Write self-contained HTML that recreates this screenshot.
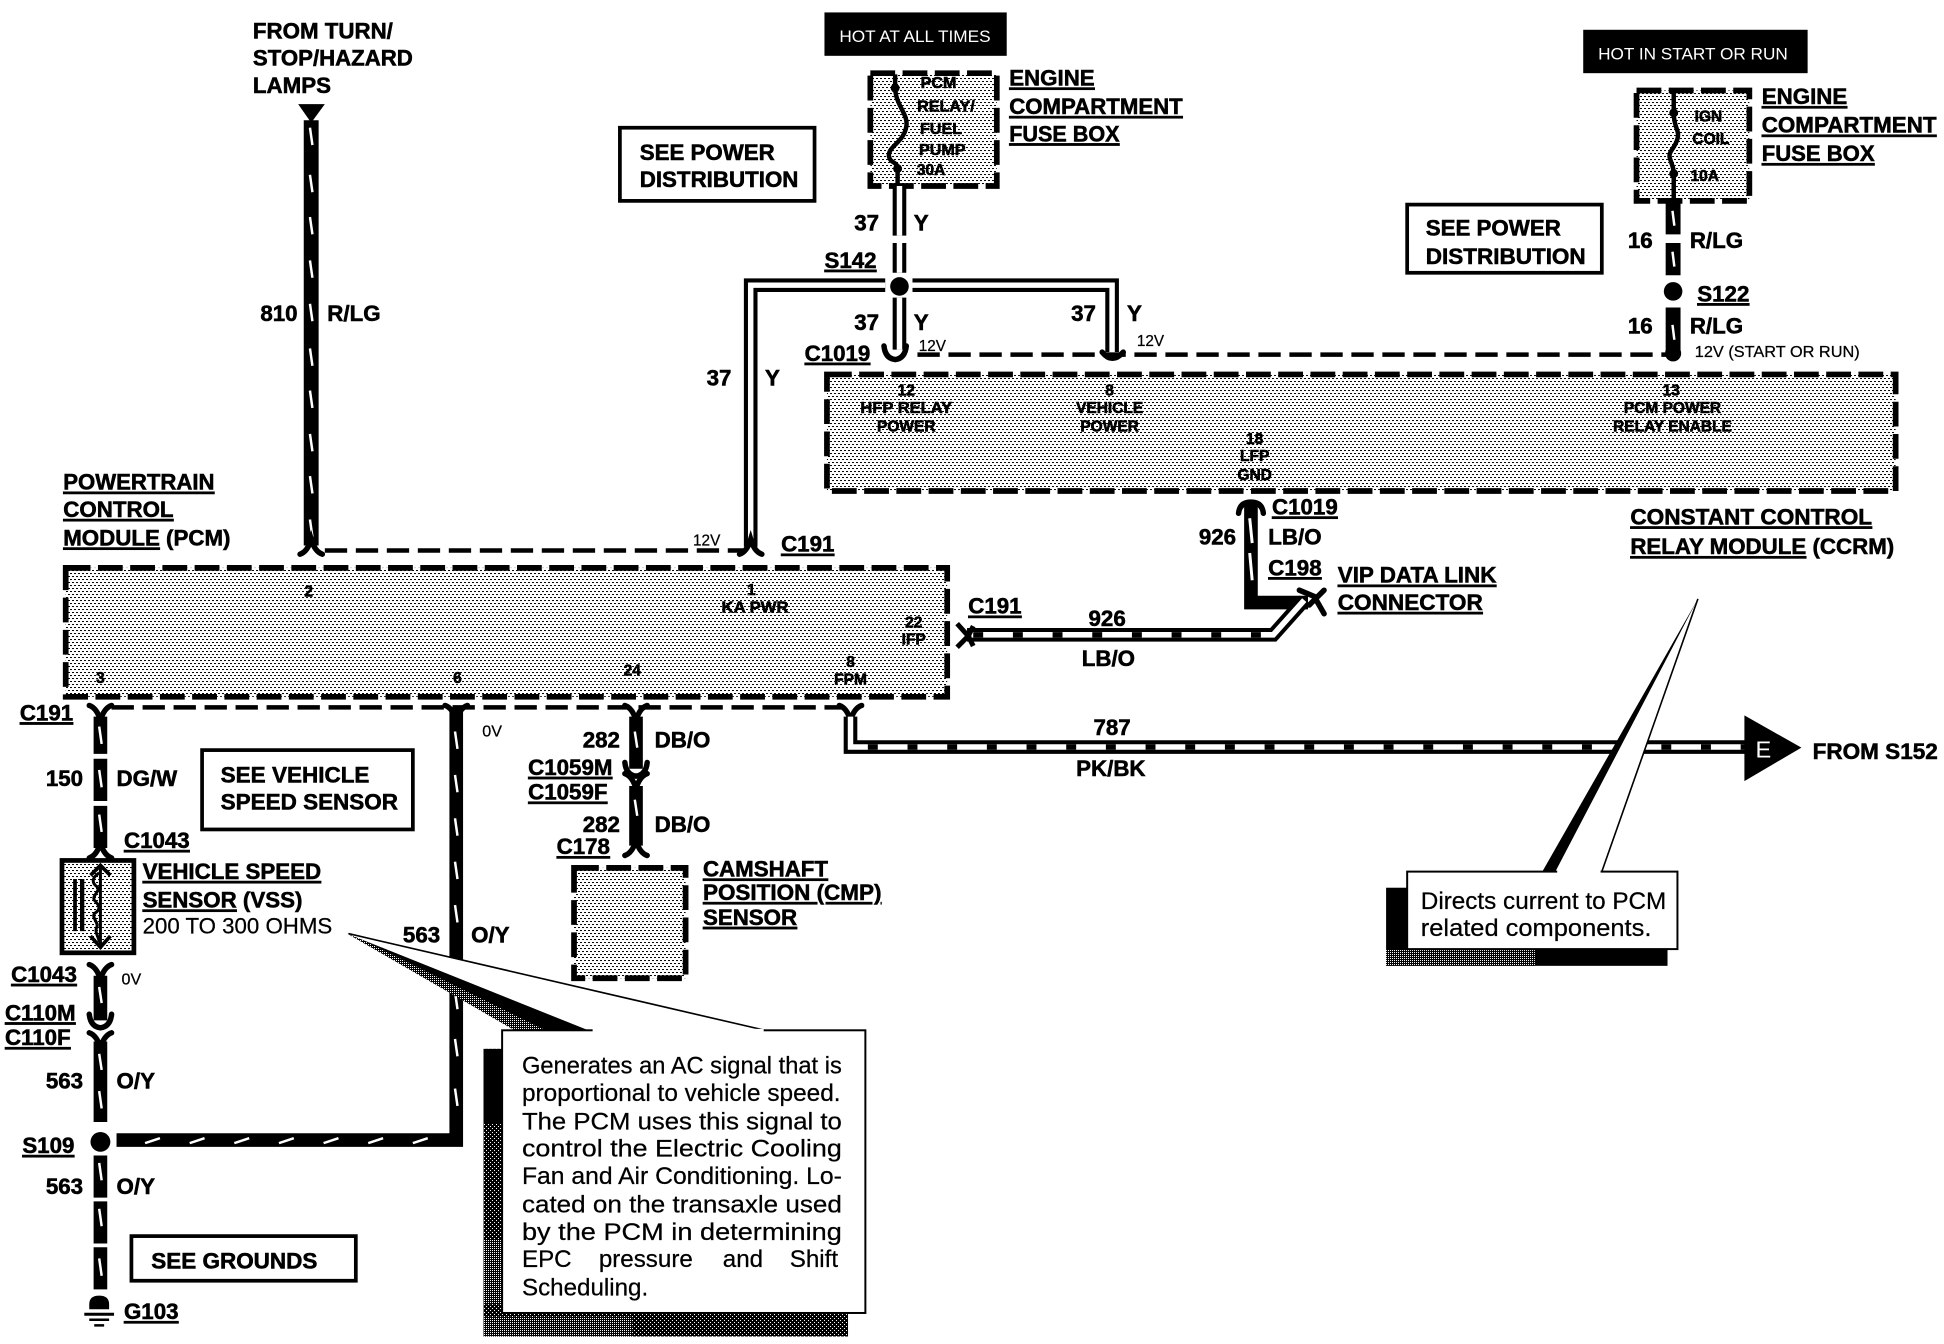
<!DOCTYPE html>
<html><head><meta charset="utf-8"><style>
html,body{margin:0;padding:0;background:#fff}
svg{display:block}
text{font-family:"Liberation Sans",sans-serif;fill:#000}
.b{font-weight:bold;font-size:18px;stroke:#000;stroke-width:.45px}
.u{text-decoration:underline}
.s{font-weight:bold;font-size:12.5px;stroke:#000;stroke-width:.5px;text-anchor:middle}
.v{font-size:13px;stroke:#000;stroke-width:.2px}
.e{text-anchor:end}
.m{text-anchor:middle}
.n{font-size:18px;stroke:#000;stroke-width:.2px}
.c{font-size:19.5px}
.w{fill:#fff;font-size:13.5px}
.box{fill:#fff;stroke:#000;stroke-width:3}
.d{fill:none;stroke:#000;stroke-width:3.6;stroke-dasharray:18 7}
.mod{fill:url(#dith);stroke:#000;stroke-width:4.6;stroke-dasharray:20 6}
.wire{fill:none;stroke:#000;stroke-width:12}
.tk{fill:none;stroke:#fff;stroke-width:2}
.o{fill:none;stroke:#000;stroke-width:11;stroke-linejoin:miter}
.i{fill:none;stroke:#fff;stroke-width:4.4;stroke-linejoin:miter}
.st{fill:none;stroke:#000;stroke-width:4.4;stroke-dasharray:8 24}
.f{fill:none;stroke:#000;stroke-width:4.4;stroke-linecap:round}
</style></head><body>
<svg width="1944" height="1344" viewBox="0 0 1568 1084" xmlns="http://www.w3.org/2000/svg">
<defs>
<pattern id="dith" width="4" height="6" patternUnits="userSpaceOnUse" patternTransform="scale(.80658)">
<rect width="4" height="6" fill="#fff"/><rect x="0" y="0" width="2" height="1" fill="#000"/><rect x="2" y="3" width="2" height="1" fill="#000"/>
</pattern>
<pattern id="dark" width="2" height="2" patternUnits="userSpaceOnUse" patternTransform="scale(.80658)">
<rect width="2" height="2" fill="#000"/><rect x="0" y="0" width="1" height="1" fill="#fff"/>
</pattern>
<pattern id="dark2" width="4" height="4" patternUnits="userSpaceOnUse" patternTransform="scale(.80658)">
<rect width="4" height="4" fill="#000"/><rect x="0" y="0" width="1" height="1" fill="#fff"/><rect x="2" y="2" width="1" height="1" fill="#fff"/>
</pattern>
<path id="fd" class="f" d="M-9 6Q-3 4 0 -6Q3 4 9 6"/>
<path id="fu" class="f" d="M-9 -6Q-3 -4 0 6Q3 -4 9 -6"/>
<path id="cup" class="f" d="M-9 -5Q-8 5 0 6Q8 5 9 -5"/>
</defs>
<rect width="1568" height="1084" fill="#fff"/>

<!-- black banners -->
<rect x="665" y="10" width="147" height="35" fill="#000"/>
<text class="w" x="677" y="34" textLength="122" lengthAdjust="spacingAndGlyphs">HOT AT ALL TIMES</text>
<rect x="1277" y="24" width="181" height="35" fill="#000"/>
<text class="w" x="1289" y="48" textLength="153" lengthAdjust="spacingAndGlyphs">HOT IN START OR RUN</text>

<!-- modules -->
<rect class="mod" x="53" y="458" width="711" height="104"/>
<rect class="mod" x="667" y="302" width="862" height="94"/>
<rect class="mod" x="702" y="59" width="102" height="91"/>
<rect class="mod" x="1320" y="73" width="91" height="89"/>
<rect class="mod" x="463" y="700" width="90" height="89"/>
<rect x="50" y="694" width="58" height="74.5" fill="url(#dith)" stroke="#000" stroke-width="3.8"/>

<!-- dashed connector lines -->
<path class="d" d="M262 444H600"/>
<path class="d" d="M740 286H1345"/>
<path class="d" d="M90 570.5H680"/>

<!-- 810 -->
<path d="M240.5 84H262L251 99Z"/>
<path class="wire" d="M251 97V440"/>
<path class="tk" d="M250 103l2 14M250 141l2 14M250 175l2 14M250 210l2 14M250 245l2 14M250 281l2 14M250 315l2 14M250 350l2 14M250 384l2 14M250 419l2 14"/>
<use href="#fd" x="251" y="441"/>

<!-- 37 system -->
<path class="o" d="M605.5 441V230H714M736 230H897V284"/>
<path class="i" d="M605.5 441V230H714M736 230H897V284"/>
<use href="#fd" x="605.5" y="441"/>
<path class="o" d="M725.5 150V190M725.5 196V220M725.5 240V282"/>
<path class="i" d="M725.5 150V190M725.5 196V220M725.5 240V282"/>
<circle cx="725.5" cy="231" r="7.5"/>
<use href="#cup" x="722" y="284"/>
<path class="f" d="M889 284Q897 294 906 284"/>

<!-- Fuse 1 -->
<path d="M722 60V70C722 85 733 92 731 102C729 115 716 118 717 126C718 132 724 130 724 136V150" fill="none" stroke="#000" stroke-width="3.6"/>
<circle cx="722" cy="71" r="3.6"/><circle cx="724" cy="136" r="3.6"/>

<!-- Fuse 2 + 16 -->
<path d="M1350 73V91C1350 103 1355 105 1353 112C1351 120 1345 122 1347 128C1349 134 1350 136 1350 140V162" fill="none" stroke="#000" stroke-width="3.6"/>
<circle cx="1350" cy="91" r="3.6"/><circle cx="1350" cy="140" r="3.6"/>
<path class="wire" d="M1349.5 160V189M1349.5 196V222M1349.5 248V284"/>
<path class="tk" d="M1349 170l1.5 12M1349 203l1.5 12M1349 262l1.5 12"/>
<circle cx="1349.5" cy="235" r="7.5"/>
<circle cx="1349.5" cy="285" r="6.5"/>

<!-- 926 -->
<path class="o" d="M1009 405V486H1055" style="stroke-width:11"/>
<path class="tk" d="M1008 418l2 20M1008 446l2 22" style="stroke-width:2.4"/>
<path class="f" d="M999 414Q1000 405 1009 405Q1018 405 1019 414"/>
<path class="o" d="M780 512H1027L1052 484"/>
<path class="i" d="M780 512H1027L1052 484" style="stroke-width:4.6"/>
<path class="st" d="M785 512H1024"/>
<path d="M1048 476L1060 481L1068 495M1068 476L1056 488" fill="none" stroke="#000" stroke-width="4.4" stroke-linecap="round"/>
<path d="M772 503L781 513L772 522M785 505L781 513L785 521" fill="none" stroke="#000" stroke-width="4"/>

<!-- 150 -->
<use href="#fu" x="81" y="575"/>
<path class="wire" d="M81 578V608M81 612V646M81 650V684" style="stroke-width:11"/>
<path class="tk" d="M80 586l2 14M80 621l2 14M80 657l2 14"/>
<use href="#fd" x="81" y="686"/>
<!-- VSS inside -->
<path d="M59 709H62V751H59ZM64.5 709H68V751H64.5Z"/>
<path d="M81 700V764" fill="none" stroke="#000" stroke-width="2.4"/>
<path d="M80 704C74 708 74 712 78 715C82 718 74 722 76 726C80 730 82 733 76 737C74 741 80 744 78 748C76 752 80 756 80 760" fill="none" stroke="#000" stroke-width="2.4"/>
<path d="M73 706L81 698L89 706M73 755L81 764L89 755" fill="none" stroke="#000" stroke-width="3"/>
<use href="#fu" x="81" y="784"/>
<path class="wire" d="M81 787V823M81 840V905M81 932V966M81 969V1003M81 1006V1040" style="stroke-width:11"/>
<use href="#cup" x="81" y="823"/>
<use href="#fu" x="81" y="839"/>
<path class="tk" d="M80 796l2 13M80 850l2 13M80 880l2 14M80 938l2 14M80 975l2 14M80 1015l2 14"/>
<circle cx="81" cy="921" r="8"/>
<!-- S109 branch -->
<path class="wire" d="M94 919.5H368V571" style="stroke-width:11"/>
<use href="#fu" x="368" y="575"/>
<path class="tk" d="M117 922l12-4M153 922l12-4M189 922l12-4M225 922l12-4M261 922l12-4M297 922l12-4M333 922l12-4"/>
<path class="tk" d="M367 590l2 14M367 625l2 14M367 660l2 14M367 695l2 14M367 730l2 14M367 800l2 14M367 838l2 14M367 878l2 14"/>
<!-- ground -->
<path d="M72 1052Q72 1045 80 1045Q88 1045 88 1052V1056H72Z"/>
<path d="M68 1060H92" stroke="#000" stroke-width="2.4"/>
<path d="M72 1064.5H88" stroke="#000" stroke-width="2"/>
<path d="M76 1069H84" stroke="#000" stroke-width="2"/>

<!-- 282 -->
<use href="#fu" x="513" y="575"/>
<path class="wire" d="M513 578V620M513 634V682" style="stroke-width:11"/>
<use href="#cup" x="513" y="620"/>
<use href="#fu" x="513" y="630"/>
<use href="#fd" x="513" y="684"/>
<path class="tk" d="M512 590l2 13M512 645l2 13"/>

<!-- 787 -->
<use href="#fu" x="686" y="575"/>
<path class="o" d="M686 578V602.5H1412" style="stroke-width:11"/>
<path class="i" d="M686 578V602.5H1412"/>
<path class="st" d="M700 602.5H1410"/>
<path d="M1407 577L1453 603L1407 630Z"/>
<text x="1416" y="611" style="fill:#fff;font-size:19px">E</text>

<!-- Callout 1 -->
<path d="M390 846H684V1078H390Z" fill="url(#dark2)"/>
<rect x="390" y="846" width="15" height="60"/>
<rect x="390" y="1000" width="15" height="52" fill="url(#dark)"/>
<rect x="390" y="1062" width="120" height="16" fill="url(#dark)"/>
<path d="M280 753L477 831L415 831Z" fill="url(#dark)"/>
<path d="M290 757L476 831L440 831Z"/>
<path d="M280 753L617 832L477 832Z" fill="#fff"/>
<path d="M281 753L617 831" stroke="#000" stroke-width="1.3"/>
<rect x="405" y="831" width="293" height="228" fill="#fff" stroke="#000" stroke-width="1.6"/>
<path d="M478 831H616" stroke="#fff" stroke-width="2.4"/>
<text class="n c" x="421" y="866" textLength="258" lengthAdjust="spacingAndGlyphs">Generates an AC signal that is</text>
<text class="n c" x="421" y="888" textLength="257" lengthAdjust="spacingAndGlyphs">proportional to vehicle speed.</text>
<text class="n c" x="421" y="911" textLength="258" lengthAdjust="spacingAndGlyphs">The PCM uses this signal to</text>
<text class="n c" x="421" y="933" textLength="258" lengthAdjust="spacingAndGlyphs">control the Electric Cooling</text>
<text class="n c" x="421" y="955" textLength="258" lengthAdjust="spacingAndGlyphs">Fan and Air Conditioning. Lo-</text>
<text class="n c" x="421" y="978" textLength="258" lengthAdjust="spacingAndGlyphs">cated on the transaxle used</text>
<text class="n c" x="421" y="1000" textLength="258" lengthAdjust="spacingAndGlyphs">by the PCM in determining</text>
<text class="n c" y="1022"><tspan x="421">EPC</tspan><tspan x="483">pressure</tspan><tspan x="583">and</tspan><tspan x="637">Shift</tspan></text>
<text class="n c" x="421" y="1045">Scheduling.</text>

<!-- Callout 2 -->
<rect x="1118" y="716" width="227" height="63" fill="#000"/>
<rect x="1118" y="766" width="120" height="13" fill="url(#dark)"/>
<path d="M1369.5 483L1244 703H1256Z"/>
<path d="M1369.5 483L1254 704H1292Z" fill="#fff"/>
<path d="M1369.5 483L1292 703" stroke="#000" stroke-width="1.3"/>
<rect x="1135" y="703" width="218" height="62.5" fill="#fff" stroke="#000" stroke-width="1.6"/>
<path d="M1256 703H1291" stroke="#fff" stroke-width="2.4"/>
<text class="n c" x="1146" y="733" textLength="198" lengthAdjust="spacingAndGlyphs">Directs current to PCM</text>
<text class="n c" x="1146" y="755" textLength="186" lengthAdjust="spacingAndGlyphs">related components.</text>

<!-- See boxes -->
<rect class="box" x="500" y="103" width="157" height="59"/>
<text class="b" x="516" y="129">SEE POWER</text><text class="b" x="516" y="151" textLength="128" lengthAdjust="spacingAndGlyphs">DISTRIBUTION</text>
<rect class="box" x="1135" y="165" width="157" height="55"/>
<text class="b" x="1150" y="190">SEE POWER</text><text class="b" x="1150" y="213" textLength="129" lengthAdjust="spacingAndGlyphs">DISTRIBUTION</text>
<rect class="box" x="163" y="605" width="170" height="64"/>
<text class="b" x="178" y="631" textLength="120" lengthAdjust="spacingAndGlyphs">SEE VEHICLE</text><text class="b" x="178" y="653" textLength="143" lengthAdjust="spacingAndGlyphs">SPEED SENSOR</text>
<rect class="box" x="106" y="997" width="181" height="36"/>
<text class="b" x="122" y="1023" textLength="134" lengthAdjust="spacingAndGlyphs">SEE GROUNDS</text>

<!-- labels -->
<text class="b" x="204" y="31">FROM TURN/</text>
<text class="b" x="204" y="53" textLength="129" lengthAdjust="spacingAndGlyphs">STOP/HAZARD</text>
<text class="b" x="204" y="75">LAMPS</text>
<text class="b e" x="240" y="259">810</text><text class="b" x="264" y="259">R/LG</text>
<text class="b e" x="590" y="311">37</text><text class="b" x="617" y="311">Y</text>
<text class="b u" x="630" y="445">C191</text>
<text class="v" x="559" y="440" textLength="22" lengthAdjust="spacingAndGlyphs">12V</text>

<text class="b u" x="51" y="395" textLength="122" lengthAdjust="spacingAndGlyphs">POWERTRAIN</text>
<text class="b u" x="51" y="417" textLength="89" lengthAdjust="spacingAndGlyphs">CONTROL</text>
<text class="b" x="51" y="440"><tspan class="u">MODULE</tspan> (PCM)</text>

<text class="s" x="249" y="481">2</text>
<text class="s" x="606" y="480">1</text>
<text class="s" x="609" y="494" textLength="54" lengthAdjust="spacingAndGlyphs">KA PWR</text>
<text class="s" x="737" y="506">22</text><text class="s" x="737" y="520">IFP</text>
<text class="s" x="81" y="551">3</text><text class="s" x="369" y="551">6</text><text class="s" x="510" y="545">24</text>
<text class="s" x="686" y="538">8</text><text class="s" x="686" y="552">FPM</text>

<text class="s" x="757" y="71" style="font-size:13px">PCM</text>
<text class="s" x="763" y="90" style="font-size:13px">RELAY/</text>
<text class="s" x="759" y="108" style="font-size:13px">FUEL</text>
<text class="s" x="760" y="125" style="font-size:13px">PUMP</text>
<text class="s" x="751" y="141">30A</text>
<text class="b u" x="814" y="69">ENGINE</text>
<text class="b u" x="814" y="92" textLength="140" lengthAdjust="spacingAndGlyphs">COMPARTMENT</text>
<text class="b u" x="814" y="114" textLength="89" lengthAdjust="spacingAndGlyphs">FUSE BOX</text>

<text class="b e" x="709" y="186">37</text><text class="b" x="737" y="186">Y</text>
<text class="b u" x="665" y="216">S142</text>
<text class="b e" x="709" y="266">37</text><text class="b" x="737" y="266">Y</text>
<text class="v" x="741" y="283" textLength="22" lengthAdjust="spacingAndGlyphs">12V</text>
<text class="b u" x="649" y="291">C1019</text>
<text class="b e" x="884" y="259">37</text><text class="b" x="909" y="259">Y</text>
<text class="v" x="917" y="279" textLength="22" lengthAdjust="spacingAndGlyphs">12V</text>

<text class="s" x="731" y="319">12</text><text class="s" x="731" y="333" textLength="74" lengthAdjust="spacingAndGlyphs">HFP RELAY</text><text class="s" x="731" y="348">POWER</text>
<text class="s" x="895" y="319">8</text><text class="s" x="895" y="333">VEHICLE</text><text class="s" x="895" y="348">POWER</text>
<text class="s" x="1012" y="358">18</text><text class="s" x="1012" y="372">LFP</text><text class="s" x="1012" y="387">GND</text>
<text class="s" x="1348" y="319">13</text><text class="s" x="1349" y="333">PCM POWER</text><text class="s" x="1349" y="348">RELAY ENABLE</text>

<text class="s" x="1378" y="98">IGN</text><text class="s" x="1380" y="116">COIL</text><text class="s" x="1375" y="146">10A</text>
<text class="b u" x="1421" y="84">ENGINE</text>
<text class="b u" x="1421" y="107" textLength="141" lengthAdjust="spacingAndGlyphs">COMPARTMENT</text>
<text class="b u" x="1421" y="130" textLength="91" lengthAdjust="spacingAndGlyphs">FUSE BOX</text>
<text class="b e" x="1333" y="200">16</text><text class="b" x="1363" y="200">R/LG</text>
<text class="b u" x="1369" y="243">S122</text>
<text class="b e" x="1333" y="269">16</text><text class="b" x="1363" y="269">R/LG</text>
<text class="v" x="1367" y="288" textLength="133" lengthAdjust="spacingAndGlyphs">12V (START OR RUN)</text>

<text class="b u" x="1315" y="423" textLength="195" lengthAdjust="spacingAndGlyphs">CONSTANT CONTROL</text>
<text class="b" x="1315" y="447"><tspan class="u">RELAY MODULE</tspan> (CCRM)</text>
<text class="b u" x="1026" y="415">C1019</text>
<text class="b e" x="997" y="439">926</text><text class="b" x="1023" y="439">LB/O</text>
<text class="b u" x="1023" y="464">C198</text>
<text class="b u" x="1079" y="470" textLength="128" lengthAdjust="spacingAndGlyphs">VIP DATA LINK</text>
<text class="b u" x="1079" y="492" textLength="117" lengthAdjust="spacingAndGlyphs">CONNECTOR</text>
<text class="b u" x="781" y="495">C191</text>
<text class="b m" x="893" y="505">926</text>
<text class="b m" x="894" y="537">LB/O</text>
<text class="b m" x="897" y="593">787</text>
<text class="b m" x="896" y="626">PK/BK</text>
<text class="b" x="1462" y="612" textLength="101" lengthAdjust="spacingAndGlyphs">FROM S152</text>

<text class="b u" x="16" y="581">C191</text>
<text class="b e" x="67" y="634">150</text><text class="b" x="94" y="634">DG/W</text>
<text class="b u" x="100" y="684">C1043</text>
<text class="b u" x="115" y="709" textLength="144" lengthAdjust="spacingAndGlyphs">VEHICLE SPEED</text>
<text class="b" x="115" y="732"><tspan class="u">SENSOR</tspan> (VSS)</text>
<text class="n" x="115" y="753" textLength="153" lengthAdjust="spacingAndGlyphs">200 TO 300 OHMS</text>
<text class="b u" x="9" y="792">C1043</text>
<text class="v" x="98" y="794">0V</text>
<text class="b u" x="4" y="823">C110M</text>
<text class="b u" x="4" y="843">C110F</text>
<text class="b e" x="67" y="878">563</text><text class="b" x="94" y="878">O/Y</text>
<text class="b u" x="18" y="930">S109</text>
<text class="b e" x="67" y="963">563</text><text class="b" x="94" y="963">O/Y</text>
<text class="b u" x="100" y="1064">G103</text>
<text class="v" x="389" y="594">0V</text>
<text class="b e" x="355" y="760">563</text><text class="b" x="380" y="760">O/Y</text>
<text class="b e" x="500" y="603">282</text><text class="b" x="528" y="603">DB/O</text>
<text class="b u" x="426" y="625">C1059M</text>
<text class="b u" x="426" y="645">C1059F</text>
<text class="b e" x="500" y="671">282</text><text class="b" x="528" y="671">DB/O</text>
<text class="b u" x="449" y="689">C178</text>
<text class="b u" x="567" y="707">CAMSHAFT</text>
<text class="b u" x="567" y="726" textLength="144" lengthAdjust="spacingAndGlyphs">POSITION (CMP)</text>
<text class="b u" x="567" y="746">SENSOR</text>
</svg>
</body></html>
